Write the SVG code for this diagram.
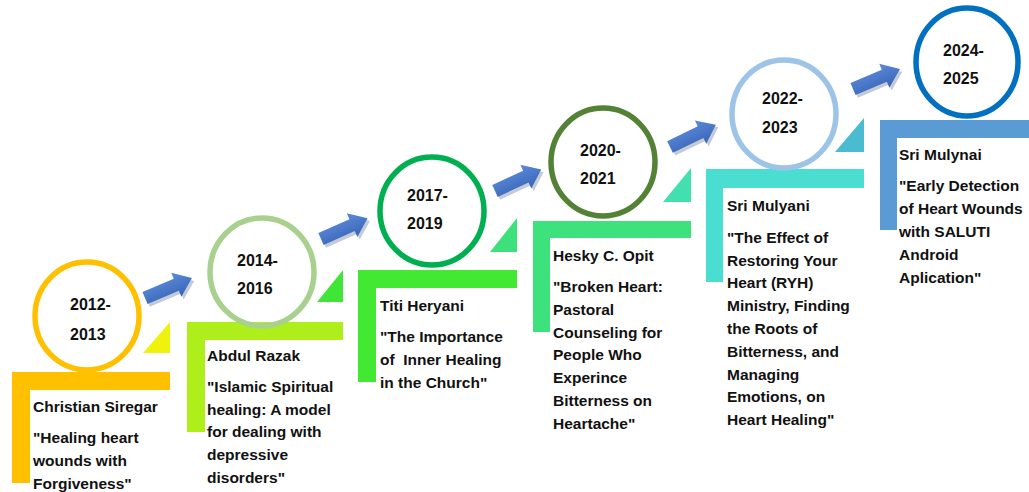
<svg xmlns="http://www.w3.org/2000/svg" width="1029" height="492" viewBox="0 0 1029 492">
<defs>
<linearGradient id="ag" x1="0" y1="0" x2="0" y2="1">
<stop offset="0" stop-color="#5B8BDA"/>
<stop offset="1" stop-color="#3A64B6"/>
</linearGradient>
<path id="arr" d="M0,-6.5 H34 V-13 L51,0 L34,13 V6.5 H0 Z"/>
</defs>
<style>
.yr{font-family:"Liberation Sans",Arial,sans-serif;font-weight:bold;font-size:16px;fill:#111}
.tx{font-family:"Liberation Sans",Arial,sans-serif;font-weight:bold;font-size:15.5px;fill:#111}
.c{fill:none;stroke-width:5.5}
.sh{fill:#C3CAD8}
.ar{fill:url(#ag)}
</style>
<rect width="1029" height="492" fill="#ffffff"/>

<g id="node1">
<path d="M12,372 H170 V390 H30 V483 H12 Z" fill="#FFC000"/>
<ellipse class="c" cx="87" cy="316" rx="52" ry="54" stroke="#FFC000"/>
<text class="yr" x="70" y="310">2012-</text>
<text class="yr" x="70" y="340">2013</text>
<text class="tx" x="33" y="412">Christian Siregar</text>
<text class="tx" x="33" y="443">"Healing heart</text>
<text class="tx" x="33" y="466">wounds with</text>
<text class="tx" x="33" y="489">Forgiveness"</text>
</g>

<g id="node2">
<polygon points="143,353 170,353 170,322" fill="#EFF20C"/>
<path d="M187,322 H343 V340 H205 V432 H187 Z" fill="#AEEE1A"/>
<ellipse class="c" cx="262" cy="272" rx="52" ry="54" stroke="#A9D18E"/>
<text class="yr" x="237" y="266">2014-</text>
<text class="yr" x="237" y="294">2016</text>
<text class="tx" x="207" y="361">Abdul Razak</text>
<text class="tx" x="207" y="392">"Islamic Spiritual</text>
<text class="tx" x="207" y="415">healing: A model</text>
<text class="tx" x="207" y="437">for dealing with</text>
<text class="tx" x="207" y="460">depressive</text>
<text class="tx" x="207" y="483">disorders"</text>
</g>

<g id="node3">
<polygon points="317,302 343,302 343,270" fill="#40E637"/>
<path d="M358,270 H517 V288 H376 V382 H358 Z" fill="#42E831"/>
<ellipse class="c" cx="432" cy="211" rx="52" ry="54" stroke="#00B050"/>
<text class="yr" x="407" y="201">2017-</text>
<text class="yr" x="407" y="229">2019</text>
<text class="tx" x="380" y="311">Titi Heryani</text>
<text class="tx" x="380" y="342" xml:space="preserve">"The Importance</text>
<text class="tx" x="380" y="365" xml:space="preserve">of  Inner Healing</text>
<text class="tx" x="380" y="388">in the Church"</text>
</g>

<g id="node4">
<polygon points="490,252 517,252 517,218" fill="#3EE07C"/>
<path d="M533,221 H691 V238 H550 V332 H533 Z" fill="#3DE27C"/>
<ellipse class="c" cx="603" cy="162" rx="52" ry="54" stroke="#548235"/>
<text class="yr" x="580" y="156">2020-</text>
<text class="yr" x="580" y="184">2021</text>
<text class="tx" x="553" y="261">Hesky C. Opit</text>
<text class="tx" x="553" y="292">"Broken Heart:</text>
<text class="tx" x="553" y="315">Pastoral</text>
<text class="tx" x="553" y="338">Counseling for</text>
<text class="tx" x="553" y="360">People Who</text>
<text class="tx" x="553" y="383">Experince</text>
<text class="tx" x="553" y="406">Bitterness on</text>
<text class="tx" x="553" y="429">Heartache"</text>
</g>

<g id="node5">
<polygon points="663,202 691,202 691,168" fill="#42DFAF"/>
<path d="M706,169 H864 V188 H723 V282 H706 Z" fill="#4ADDD2"/>
<ellipse class="c" cx="784" cy="114" rx="52" ry="54" stroke="#9DC3E6"/>
<text class="yr" x="762" y="104">2022-</text>
<text class="yr" x="762" y="133">2023</text>
<text class="tx" x="727" y="211">Sri Mulyani</text>
<text class="tx" x="727" y="243">"The Effect of</text>
<text class="tx" x="727" y="266">Restoring Your</text>
<text class="tx" x="727" y="288">Heart (RYH)</text>
<text class="tx" x="727" y="311">Ministry, Finding</text>
<text class="tx" x="727" y="334">the Roots of</text>
<text class="tx" x="727" y="357">Bitterness, and</text>
<text class="tx" x="727" y="380">Managing</text>
<text class="tx" x="727" y="402">Emotions, on</text>
<text class="tx" x="727" y="425">Heart Healing"</text>
</g>

<g id="node6">
<polygon points="835,152 864,152 864,118" fill="#4BBCD0"/>
<path d="M880,120 H1029 V138 H897 V230 H880 Z" fill="#5B9BD5"/>
<ellipse class="c" cx="967" cy="62" rx="51" ry="54" stroke="#0070C0"/>
<text class="yr" x="943" y="56">2024-</text>
<text class="yr" x="943" y="84">2025</text>
<text class="tx" x="899" y="160">Sri Mulynai</text>
<text class="tx" x="899" y="191">"Early Detection</text>
<text class="tx" x="899" y="214">of Heart Wounds</text>
<text class="tx" x="899" y="237">with SALUTI</text>
<text class="tx" x="899" y="260">Android</text>
<text class="tx" x="899" y="283">Aplication"</text>
</g>

<g id="connectors">
<g transform="translate(145,298) rotate(-23)"><use href="#arr" class="sh" transform="translate(1,3.5)"/><use href="#arr" class="ar"/></g>
<g transform="translate(321,239) rotate(-24)"><use href="#arr" class="sh" transform="translate(1,3.5)"/><use href="#arr" class="ar"/></g>
<g transform="translate(495,191) rotate(-25)"><use href="#arr" class="sh" transform="translate(1,3.5)"/><use href="#arr" class="ar"/></g>
<g transform="translate(670,147) rotate(-26)"><use href="#arr" class="sh" transform="translate(1,3.5)"/><use href="#arr" class="ar"/></g>
<g transform="translate(853,89) rotate(-23)"><use href="#arr" class="sh" transform="translate(1,3.5)"/><use href="#arr" class="ar"/></g>
</g>
</svg>
